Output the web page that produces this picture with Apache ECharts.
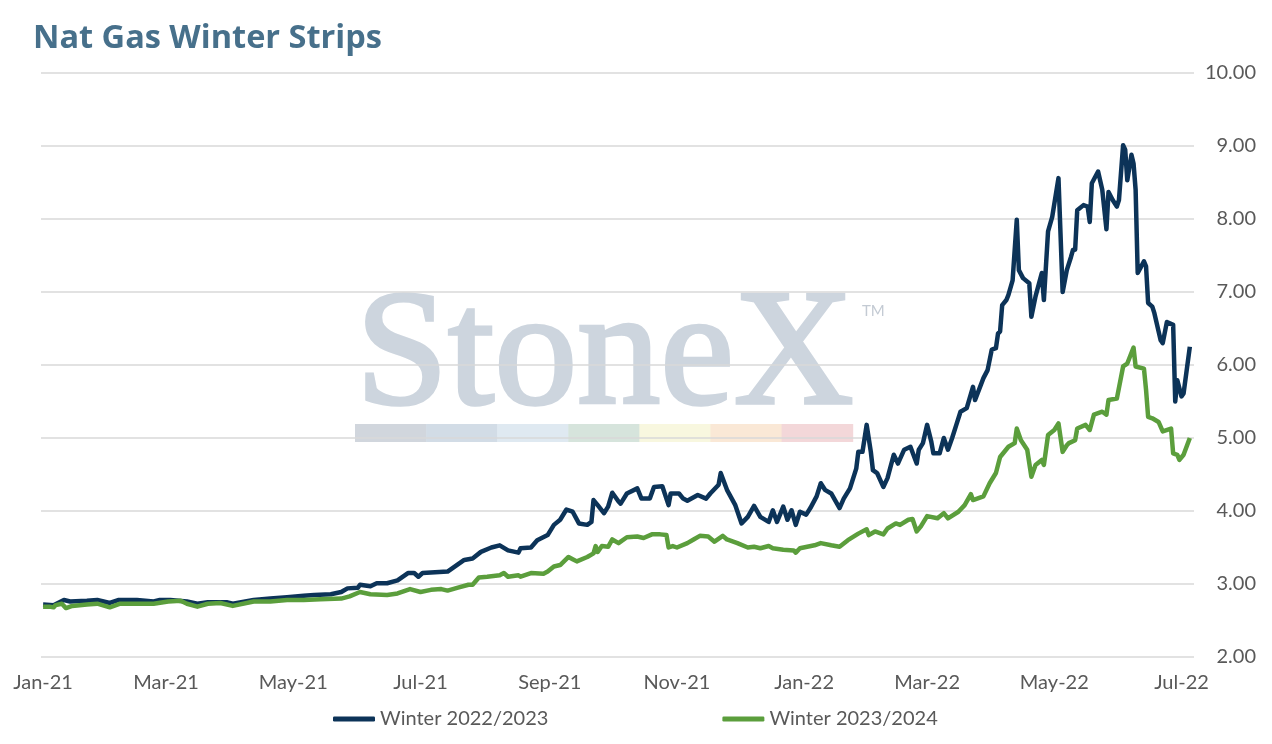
<!DOCTYPE html>
<html>
<head>
<meta charset="utf-8">
<title>Nat Gas Winter Strips</title>
<script src="https://cdn.jsdelivr.net/npm/echarts@6/dist/echarts.min.js"></script>
<style>
html, body { margin: 0; padding: 0; background: #ffffff; }
#main { width: 1272px; height: 744px; }
</style>
</head>
<body>
<div id="main"></div>
<script>
// x values are calendar days counted from 1 Jan 2021
var blueDay = [
	0, 5, 10, 13, 21, 26, 32, 36, 45, 53,
	56, 61, 69, 74, 79, 88, 91, 101, 109, 117,
	125, 130, 138, 143, 146, 151, 152, 157, 160, 165,
	170, 175, 178, 180, 182, 194, 202, 206, 210, 215,
	219, 223, 228, 229, 234, 237, 242, 245, 248, 251,
	254, 257, 261, 263, 264, 266, 269, 271, 273, 276,
	277, 280, 285, 287, 291, 293, 297, 300, 301, 305,
	307, 309, 314, 318, 320, 324, 325, 328, 332, 335,
	338, 341, 344, 348, 350, 352, 355, 357, 359, 361,
	363, 366, 368, 371, 373, 375, 378, 382, 384, 387,
	390, 391, 393, 395, 397, 398, 400, 403, 405, 408,
	410, 413, 416, 419, 420, 422, 424, 426, 427, 430,
	432, 434, 436, 438, 440, 443, 446, 447, 451, 453,
	455, 457, 458, 459, 460, 462, 463, 465, 467, 468,
	470, 473, 474, 476, 479, 480, 482, 484, 487, 489,
	491, 493, 494, 495, 496, 499, 501, 502, 503, 506,
	508, 510, 511, 513, 515, 516, 518, 519, 520, 522,
	523, 524, 525, 528, 529, 530, 532, 533, 536, 537,
	539, 542, 543, 544, 546, 547, 550
];
var blueValue = [
	2.72, 2.71, 2.78, 2.76, 2.77, 2.78, 2.74, 2.78, 2.78, 2.76,
	2.78, 2.78, 2.76, 2.73, 2.75, 2.75, 2.73, 2.78, 2.80, 2.82,
	2.84, 2.85, 2.86, 2.89, 2.94, 2.95, 2.99, 2.97, 3.01, 3.01,
	3.05, 3.15, 3.15, 3.10, 3.15, 3.17, 3.33, 3.35, 3.44, 3.50,
	3.53, 3.46, 3.43, 3.49, 3.50, 3.60, 3.67, 3.81, 3.88, 4.02,
	3.99, 3.83, 3.81, 3.85, 4.15, 4.08, 3.97, 4.06, 4.25, 4.13,
	4.10, 4.24, 4.31, 4.17, 4.17, 4.33, 4.34, 4.08, 4.24, 4.24,
	4.17, 4.14, 4.22, 4.17, 4.24, 4.36, 4.52, 4.29, 4.08, 3.83,
	3.92, 4.07, 3.92, 3.85, 4.01, 3.85, 4.06, 3.88, 4.01, 3.81,
	3.99, 3.95, 4.04, 4.20, 4.38, 4.29, 4.24, 4.04, 4.17, 4.31,
	4.58, 4.81, 4.81, 5.18, 4.81, 4.56, 4.52, 4.33, 4.45, 4.77,
	4.65, 4.84, 4.88, 4.65, 4.84, 4.93, 5.18, 4.95, 4.79, 4.79,
	5.00, 4.84, 5.00, 5.18, 5.36, 5.41, 5.70, 5.52, 5.82, 5.93,
	6.21, 6.23, 6.43, 6.46, 6.82, 6.89, 6.96, 7.16, 7.99, 7.30,
	7.19, 7.12, 6.66, 6.94, 7.26, 6.89, 7.83, 8.03, 8.56, 7.00,
	7.30, 7.48, 7.58, 7.58, 8.12, 8.19, 8.17, 7.96, 8.49, 8.65,
	8.40, 7.86, 8.37, 8.26, 8.17, 8.26, 9.01, 8.95, 8.53, 8.88,
	8.76, 8.40, 7.26, 7.42, 7.35, 6.85, 6.80, 6.71, 6.34, 6.30,
	6.59, 6.55, 5.50, 5.79, 5.57, 5.61, 6.25
];
var greenDay = [
	0, 3, 5, 6, 9, 11, 14, 21, 26, 32,
	37, 45, 53, 60, 66, 69, 74, 79, 85, 91,
	101, 109, 117, 125, 133, 143, 147, 152, 157, 165,
	170, 176, 181, 186, 191, 194, 199, 204, 206, 209,
	213, 219, 221, 223, 228, 229, 234, 240, 242, 245,
	248, 252, 254, 256, 261, 264, 265, 266, 268, 271,
	273, 276, 277, 280, 285, 288, 292, 296, 299, 300,
	302, 304, 309, 312, 315, 319, 322, 326, 328, 333,
	338, 341, 344, 348, 350, 355, 360, 361, 363, 370,
	373, 378, 382, 386, 391, 395, 396, 399, 403, 405,
	409, 411, 415, 417, 419, 421, 424, 429, 432, 434,
	439, 442, 445, 446, 451, 454, 457, 459, 463, 466,
	467, 469, 472, 474, 476, 479, 480, 482, 485, 487,
	489, 491, 492, 495, 496, 500, 502, 504, 508, 510,
	511, 515, 518, 520, 523, 524, 528, 529, 530, 532,
	535, 537, 541, 542, 544, 545, 547, 550
];
var greenValue = [
	2.69, 2.69, 2.68, 2.71, 2.73, 2.67, 2.70, 2.72, 2.73, 2.68,
	2.73, 2.73, 2.73, 2.76, 2.77, 2.73, 2.69, 2.73, 2.74, 2.70,
	2.76, 2.76, 2.78, 2.78, 2.79, 2.80, 2.83, 2.89, 2.86, 2.85,
	2.87, 2.93, 2.89, 2.92, 2.93, 2.91, 2.95, 2.99, 2.99, 3.09,
	3.10, 3.12, 3.15, 3.10, 3.12, 3.10, 3.15, 3.14, 3.17, 3.24,
	3.26, 3.37, 3.34, 3.31, 3.37, 3.42, 3.52, 3.44, 3.52, 3.51,
	3.61, 3.56, 3.58, 3.64, 3.65, 3.63, 3.68, 3.68, 3.67, 3.50,
	3.52, 3.50, 3.56, 3.61, 3.66, 3.65, 3.58, 3.66, 3.61, 3.56,
	3.50, 3.51, 3.49, 3.52, 3.49, 3.47, 3.46, 3.43, 3.49, 3.53,
	3.56, 3.53, 3.51, 3.60, 3.69, 3.75, 3.67, 3.72, 3.68, 3.76,
	3.83, 3.81, 3.88, 3.89, 3.72, 3.79, 3.93, 3.90, 3.97, 3.90,
	3.99, 4.08, 4.23, 4.15, 4.20, 4.38, 4.52, 4.74, 4.88, 4.93,
	5.13, 4.97, 4.84, 4.47, 4.63, 4.70, 4.63, 5.04, 5.11, 5.20,
	4.81, 4.90, 4.93, 4.97, 5.13, 5.18, 5.11, 5.32, 5.36, 5.32,
	5.52, 5.54, 5.98, 6.02, 6.24, 5.98, 5.95, 5.66, 5.29, 5.27,
	5.22, 5.09, 5.13, 4.79, 4.77, 4.70, 4.77, 5.00
];
var seriesNames = ['Winter 2022/2023', 'Winter 2023/2024'];
// month-start ticks, in days from 1 Jan 2021
var xLabels = ['Jan-21', 'Mar-21', 'May-21', 'Jul-21', 'Sep-21', 'Nov-21', 'Jan-22', 'Mar-22', 'May-22', 'Jul-22'];
var xLabelDays = [0, 59, 120, 181, 243, 304, 365, 424, 485, 546];
var yTicks = [2, 3, 4, 5, 6, 7, 8, 9, 10];

function pairs(days, values) {
	var out = [];
	for (var i = 0; i < days.length; i++) {
		out.push([days[i], values[i]]);
	}
	return out;
}

// watermark: logo text plus the pale colour band under it
var bandColors = ['#d1d6dd', '#d2dce6', '#dfe9f1', '#d6e4dc', '#f8f7df', '#fae8d6', '#f3d7d9'];
var graphics = [{
	type: 'text', left: 354, top: 275, z: -10, silent: true,
	style: { text: 'StoneX', font: '166px "Liberation Serif"', fill: '#cdd5de', stroke: '#cdd5de', lineWidth: 3.5 }
}, {
	type: 'text', left: 862, top: 304, z: -10, silent: true,
	style: { text: 'TM', font: '15px Lato', fill: '#c3cad3' }
}];
for (var b = 0; b < bandColors.length; b++) {
	graphics.push({
		type: 'rect', left: 355 + b * 71.1, top: 424, z: -10, silent: true,
		shape: { width: 71.6, height: 18 },
		style: { fill: bandColors[b] }
	});
}

var myChart = echarts.init(document.getElementById('main'));
var option = {
	animation: false,
	backgroundColor: '#ffffff',
	textStyle: { fontFamily: 'Lato' },
	title: {
		text: 'Nat Gas Winter Strips',
		left: 28,
		top: 17,
		textStyle: { fontFamily: 'Open Sans', fontSize: 32.5, fontWeight: 'bold', color: '#47708b' }
	},
	graphic: graphics,
	legend: {
		data: seriesNames,
		left: 333,
		top: 709,
		padding: 0,
		itemGap: 174,
		itemWidth: 42,
		itemHeight: 5,
		icon: 'roundRect',
		textStyle: { fontSize: 20, color: '#595959' }
	},
	grid: { left: 41, right: 78, top: 73, bottom: 87, containLabel: false },
	xAxis: {
		type: 'value',
		min: -1,
		max: 552,
		axisLine: { show: false },
		axisTick: { show: false },
		splitLine: { show: false },
		axisLabel: {
			customValues: xLabelDays,
			margin: 16,
			fontSize: 20,
			color: '#595959',
			formatter: function (value) {
				var i = xLabelDays.indexOf(value);
				return i >= 0 ? xLabels[i] : '';
			}
		}
	},
	yAxis: {
		type: 'value',
		position: 'right',
		min: yTicks[0],
		max: yTicks[yTicks.length - 1],
		interval: 1,
		axisLine: { show: false },
		axisTick: { show: false },
		splitLine: { lineStyle: { color: '#d9d9d9', width: 1.5 } },
		axisLabel: {
			align: 'right',
			margin: 62,
			fontSize: 20,
			color: '#595959',
			formatter: function (v) { return v.toFixed(2); }
		}
	},
	series: [{
		name: seriesNames[0],
		type: 'line',
		showSymbol: false,
		color: '#0c3358',
		lineStyle: { width: 4.5, color: '#0c3358', join: 'round' },
		data: pairs(blueDay, blueValue)
	}, {
		name: seriesNames[1],
		type: 'line',
		showSymbol: false,
		color: '#5b9e3c',
		lineStyle: { width: 4.5, color: '#5b9e3c', join: 'round' },
		data: pairs(greenDay, greenValue)
	}]
};
myChart.setOption(option);
</script>
</body>
</html>
